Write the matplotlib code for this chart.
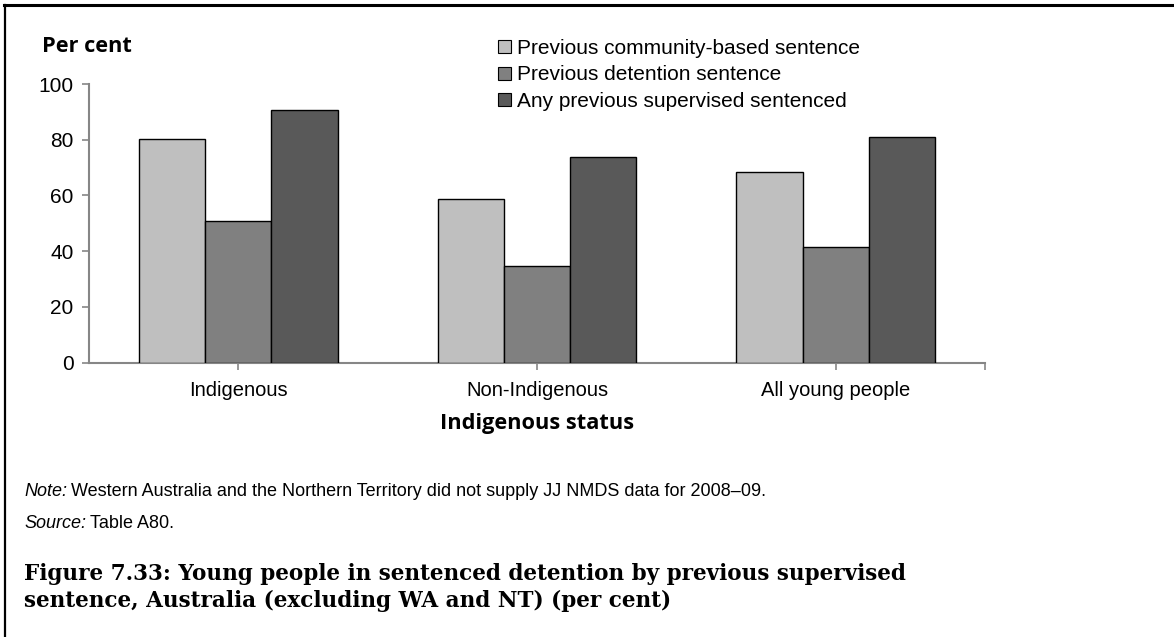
import matplotlib.pyplot as plt
from matplotlib.patches import Patch
from matplotlib.lines import Line2D
import numpy as np

categories = ["Indigenous", "Non-Indigenous", "All young people"]
series_names = ["Previous community-based sentence",
                "Previous detention sentence",
                "Any previous supervised sentenced"]
community = [80.3, 58.9, 68.3]
detention = [50.8, 34.7, 41.6]
any_supervised = [90.7, 73.9, 81.1]
y_ticks = [0, 20, 40, 60, 80, 100]

colors = ["#BFBFBF", "#808080", "#595959"]
axis_grey = "#868686"
sans = "Liberation Sans"
bold_sans = "Open Sans"

fig = plt.figure(figsize=(11.74, 6.37), dpi=100)
ax = fig.add_axes([89 / 1174, 1 - 362.7 / 637, (985 - 89) / 1174, (362.7 - 84) / 637])

x = np.arange(len(categories))
w = 0.222
for i, vals in enumerate([community, detention, any_supervised]):
    ax.bar(x + (i - 1) * w, vals, width=w, color=colors[i], edgecolor="black",
           linewidth=1.0, zorder=3)

ax.set_xlim(-0.5, 2.5)
ax.set_ylim(0, 100)
ax.set_yticks(y_ticks)
ax.set_xticks(x)
ax.set_xticklabels(categories, fontsize=14.5, family=sans)
ax.set_xticks([2.5], minor=True)
ax.tick_params(axis="x", which="both", length=5, color=axis_grey, width=1.2, pad=8)
ax.tick_params(axis="y", length=5, color=axis_grey, width=1.2, labelsize=15, pad=6)
for lab in ax.get_yticklabels():
    lab.set_family(sans)
for s in ["top", "right"]:
    ax.spines[s].set_visible(False)
for s in ["left", "bottom"]:
    ax.spines[s].set_color(axis_grey)
    ax.spines[s].set_linewidth(1.5)

fig.text(42 / 1174, 1 - 46 / 637, "Per cent", fontsize=15.7, fontweight="bold",
         family=bold_sans, va="center", ha="left")
fig.text(537 / 1174, 1 - 423 / 637, "Indigenous status", fontsize=15.7,
         fontweight="bold", family=bold_sans, va="center", ha="center")

handles = [Patch(facecolor=c, edgecolor="black", linewidth=0.8) for c in colors]
fig.legend(handles, series_names, loc="upper left",
           bbox_to_anchor=(498 / 1174, 1 - 39 / 637), frameon=False,
           prop={"family": sans, "size": 15}, handlelength=0.6, handleheight=0.6,
           handletextpad=0.3, labelspacing=0.36, borderaxespad=0, borderpad=0)

# note and source lines, italic label followed by plain text
fig.canvas.draw()
r = fig.canvas.get_renderer()
for y, lab, rest in [(491, "Note:", "Western Australia and the Northern Territory did not supply JJ NMDS data for 2008\u201309."),
                     (523, "Source:", "Table A80.")]:
    t = fig.text(24 / 1174, 1 - y / 637, lab, fontsize=13, family=sans,
                 style="italic", va="center")
    bb = t.get_window_extent(r)
    fig.text((bb.x1 + 4) / 1174, 1 - y / 637, rest, fontsize=13, family=sans,
             va="center")

fig.text(24 / 1174, 1 - 580 / 637,
         "Figure 7.33: Young people in sentenced detention by previous supervised",
         fontsize=15.5, fontweight="bold", family="DejaVu Serif", va="baseline")
fig.text(24 / 1174, 1 - 607 / 637,
         "sentence, Australia (excluding WA and NT) (per cent)",
         fontsize=15.5, fontweight="bold", family="DejaVu Serif", va="baseline")

fig.add_artist(Line2D([0.003, 1.0], [1 - 5 / 637, 1 - 5 / 637], color="black",
                      linewidth=2.2, transform=fig.transFigure))
fig.add_artist(Line2D([5 / 1174, 5 / 1174], [0, 1 - 5 / 637], color="black",
                      linewidth=1.6, transform=fig.transFigure))

fig.savefig("out.png", dpi=100)
